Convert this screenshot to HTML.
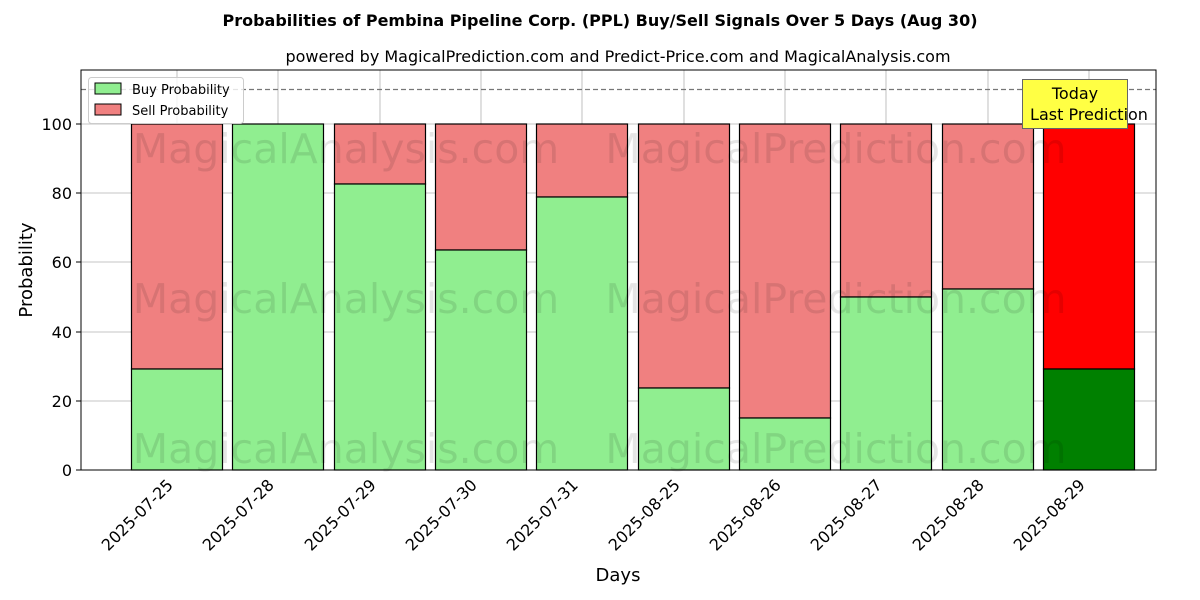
<!DOCTYPE html>
<html><head><meta charset="utf-8"><style>body{margin:0;background:#fff}svg{display:block}</style></head><body>
<svg width="1200" height="600" xmlns="http://www.w3.org/2000/svg" font-family="'DejaVu Sans', 'Liberation Sans', sans-serif">
<rect width="1200" height="600" fill="#fff"/>
<text x="600" y="26" font-size="16" font-weight="bold" text-anchor="middle">Probabilities of Pembina Pipeline Corp. (PPL) Buy/Sell Signals Over 5 Days (Aug 30)</text>
<text x="618" y="62" font-size="16" text-anchor="middle">powered by MagicalPrediction.com and Predict-Price.com and MagicalAnalysis.com</text>
<g stroke="#b0b0b0" stroke-width="0.8">
<line x1="81" x2="1156" y1="470" y2="470"/><line x1="81" x2="1156" y1="401" y2="401"/><line x1="81" x2="1156" y1="332" y2="332"/><line x1="81" x2="1156" y1="262" y2="262"/><line x1="81" x2="1156" y1="193" y2="193"/><line x1="81" x2="1156" y1="124" y2="124"/>
<line x1="177" x2="177" y1="70" y2="470"/><line x1="278" x2="278" y1="70" y2="470"/><line x1="380" x2="380" y1="70" y2="470"/><line x1="481" x2="481" y1="70" y2="470"/><line x1="582" x2="582" y1="70" y2="470"/><line x1="684" x2="684" y1="70" y2="470"/><line x1="785" x2="785" y1="70" y2="470"/><line x1="886" x2="886" y1="70" y2="470"/><line x1="988" x2="988" y1="70" y2="470"/><line x1="1089" x2="1089" y1="70" y2="470"/>
</g>
<g stroke="#000" stroke-width="1.2">
<rect x="131.5" y="124" width="91" height="245" fill="#f08080"/><rect x="131.5" y="369" width="91" height="101" fill="#90ee90"/>
<rect x="232.5" y="124" width="91" height="346" fill="#90ee90"/>
<rect x="334.5" y="124" width="91" height="60" fill="#f08080"/><rect x="334.5" y="184" width="91" height="286" fill="#90ee90"/>
<rect x="435.5" y="124" width="91" height="126" fill="#f08080"/><rect x="435.5" y="250" width="91" height="220" fill="#90ee90"/>
<rect x="536.5" y="124" width="91" height="73" fill="#f08080"/><rect x="536.5" y="197" width="91" height="273" fill="#90ee90"/>
<rect x="638.5" y="124" width="91" height="264" fill="#f08080"/><rect x="638.5" y="388" width="91" height="82" fill="#90ee90"/>
<rect x="739.5" y="124" width="91" height="294" fill="#f08080"/><rect x="739.5" y="418" width="91" height="52" fill="#90ee90"/>
<rect x="840.5" y="124" width="91" height="173" fill="#f08080"/><rect x="840.5" y="297" width="91" height="173" fill="#90ee90"/>
<rect x="942.5" y="124" width="91" height="165" fill="#f08080"/><rect x="942.5" y="289" width="91" height="181" fill="#90ee90"/>
<rect x="1043.5" y="124" width="91" height="245" fill="#ff0000"/><rect x="1043.5" y="369" width="91" height="101" fill="#008000"/>
</g>
<g font-size="41" fill="#000" fill-opacity="0.1" text-anchor="middle">
<text x="346" y="163">MagicalAnalysis.com</text><text x="836" y="163">MagicalPrediction.com</text>
<text x="346" y="313">MagicalAnalysis.com</text><text x="836" y="313">MagicalPrediction.com</text>
<text x="346" y="463">MagicalAnalysis.com</text><text x="836" y="463">MagicalPrediction.com</text>
</g>
<line x1="81" x2="1156" y1="89.5" y2="89.5" stroke="#777" stroke-width="1.2" stroke-dasharray="5,3"/>
<rect x="1022.5" y="79.5" width="105" height="49" fill="#ffff44" stroke="#666"/>
<text x="1075" y="99" font-size="16" text-anchor="middle">Today</text>
<text x="1089" y="120" font-size="16" text-anchor="middle">Last Prediction</text>
<rect x="81" y="70" width="1075" height="400" fill="none" stroke="#000" stroke-width="1"/>
<rect x="88.5" y="77.5" width="155" height="46" fill="#fff" fill-opacity="0.8" stroke="#ccc" rx="3"/>
<rect x="95" y="83" width="26" height="11" fill="#90ee90" stroke="#000"/><text x="132" y="94" font-size="13">Buy Probability</text>
<rect x="95" y="104" width="26" height="11" fill="#f08080" stroke="#000"/><text x="132" y="115" font-size="13">Sell Probability</text>
<g font-size="16" text-anchor="end">
<text x="72" y="476">0</text><text x="72" y="407">20</text><text x="72" y="338">40</text><text x="72" y="268">60</text><text x="72" y="199">80</text><text x="72" y="130">100</text>
</g>
<g stroke="#000"><line x1="76" x2="81" y1="470" y2="470"/><line x1="76" x2="81" y1="401" y2="401"/><line x1="76" x2="81" y1="332" y2="332"/><line x1="76" x2="81" y1="262" y2="262"/><line x1="76" x2="81" y1="193" y2="193"/><line x1="76" x2="81" y1="124" y2="124"/></g>
<g font-size="16" text-anchor="end">
<text transform="translate(174,486) rotate(-45)">2025-07-25</text>
<text transform="translate(275,486) rotate(-45)">2025-07-28</text>
<text transform="translate(377,486) rotate(-45)">2025-07-29</text>
<text transform="translate(478,486) rotate(-45)">2025-07-30</text>
<text transform="translate(579,486) rotate(-45)">2025-07-31</text>
<text transform="translate(681,486) rotate(-45)">2025-08-25</text>
<text transform="translate(782,486) rotate(-45)">2025-08-26</text>
<text transform="translate(883,486) rotate(-45)">2025-08-27</text>
<text transform="translate(985,486) rotate(-45)">2025-08-28</text>
<text transform="translate(1086,486) rotate(-45)">2025-08-29</text>
</g>
<text x="618" y="581" font-size="18" text-anchor="middle">Days</text>
<text transform="translate(32,270) rotate(-90)" font-size="18" text-anchor="middle">Probability</text>
</svg>
</body></html>
